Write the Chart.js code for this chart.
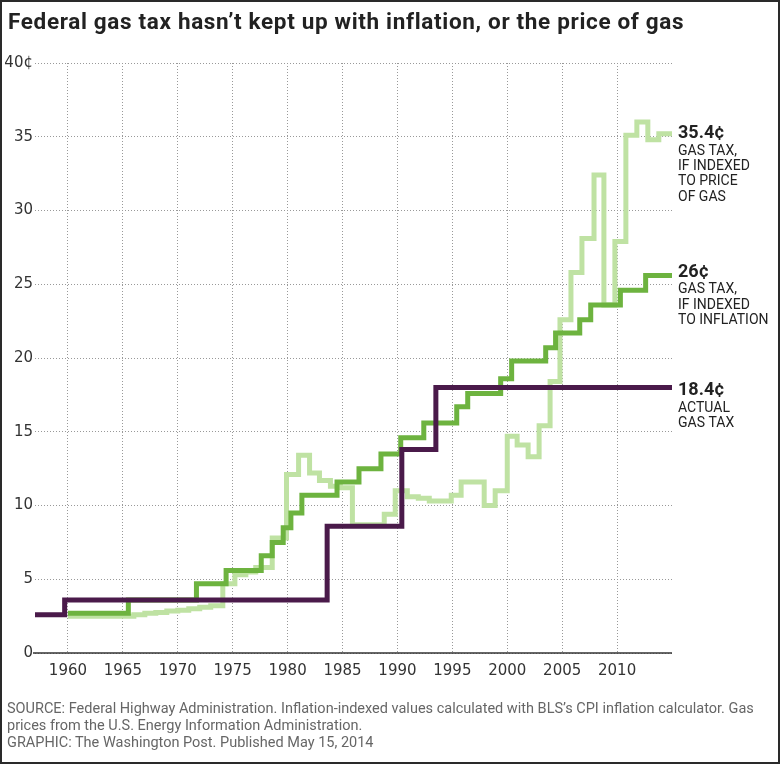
<!DOCTYPE html>
<html><head><meta charset="utf-8">
<script src="https://cdn.jsdelivr.net/npm/chart.js@4.4.1/dist/chart.umd.min.js"></script>
<style>
html,body{margin:0;padding:0;background:#fff;}
#wrap{position:relative;width:780px;height:764px;overflow:hidden;background:#fff;}
#c{position:absolute;left:0;top:0;}
#frame{position:absolute;left:0;top:0;width:780px;height:764px;box-sizing:border-box;border:2px solid #2a2a2a;pointer-events:none;}
#title{position:absolute;left:8px;top:8px;font-family:Roboto,sans-serif;font-weight:700;font-size:22.5px;line-height:26px;color:#222;white-space:nowrap;}
#foot{position:absolute;left:7px;top:701px;font-family:Roboto,sans-serif;font-size:14.5px;line-height:16.8px;color:#666;white-space:nowrap;}
</style></head>
<body>
<div id="wrap">
<canvas id="c" width="780" height="764"></canvas>
<div id="title">Federal gas tax hasn’t kept up with inflation, or the price of gas</div>
<div id="foot">SOURCE: Federal Highway Administration. Inflation-indexed values calculated with BLS’s CPI inflation calculator. Gas<br>prices from the U.S. Energy Information Administration.<br>GRAPHIC: The Washington Post. Published May 15, 2014</div>
<div id="frame"></div>
</div>
<script>
// ---- data ----
const xTicks = [1960, 1965, 1970, 1975, 1980, 1985, 1990, 1995, 2000, 2005, 2010];
const yTicks = [0, 5, 10, 15, 20, 25, 30, 35, 40];

// actual federal gas tax (cents), step starts
const actualYears = [1957, 1959.7, 1983.6, 1990.4, 1993.5, 2015];
const actualTax   = [2.6, 3.6, 8.6, 13.8, 18.0, 18.0];

// gas tax if indexed to inflation
const inflationYears = [1960, 1965.5, 1971.7, 1974.4, 1977.6, 1978.6, 1979.6, 1980.3, 1981.3, 1984.5, 1986.5, 1988.5, 1990.3, 1992.4, 1995.4, 1996.4, 1999.4, 2000.4, 2003.5, 2004.4, 2006.6, 2007.6, 2010.3, 2012.6, 2015];
const inflationTax   = [2.7, 3.6, 4.7, 5.6, 6.6, 7.5, 8.5, 9.5, 10.7, 11.6, 12.5, 13.5, 14.6, 15.6, 16.7, 17.6, 18.6, 19.8, 20.7, 21.7, 22.6, 23.6, 24.6, 25.6, 25.6];

// gas tax if indexed to price of gas
const gasPriceYears = [1960, 1966, 1967, 1968, 1969, 1970, 1971, 1972, 1973, 1974.1, 1975.2, 1976.2, 1977.1, 1978.6, 1979.9, 1981.0, 1982.0, 1982.9, 1983.9, 1984.8, 1985.9, 1988.8, 1989.8, 1990.9, 1991.9, 1992.9, 1994.9, 1995.8, 1997.9, 1998.9, 2000.0, 2000.9, 2001.9, 2002.9, 2003.9, 2004.8, 2005.8, 2006.8, 2007.9, 2008.8, 2009.8, 2010.8, 2011.8, 2012.8, 2013.8, 2015];
const gasPriceTax   = [2.5, 2.6, 2.7, 2.75, 2.85, 2.9, 3.0, 3.1, 3.2, 4.7, 5.3, 5.5, 5.8, 7.8, 12.1, 13.4, 12.2, 11.7, 11.3, 11.2, 8.7, 9.4, 11.0, 10.6, 10.5, 10.3, 10.7, 11.6, 10.0, 11.0, 14.7, 14.1, 13.3, 15.4, 18.4, 22.6, 25.8, 28.1, 32.4, 23.6, 27.9, 35.1, 36.0, 34.8, 35.2, 35.2];

// end labels
const actualLabel    = ['18.4¢', 'ACTUAL', 'GAS TAX'];
const inflationLabel = ['26¢', 'GAS TAX,', 'IF INDEXED', 'TO INFLATION'];
const gasPriceLabel  = ['35.4¢', 'GAS TAX,', 'IF INDEXED', 'TO PRICE', 'OF GAS'];

// ---- title fit to reference width ----
(function () {
  const t = document.getElementById('title');
  const w = t.getBoundingClientRect().width;
  const target = 676;
  const n = t.textContent.length;
  t.style.letterSpacing = ((target - w) / n).toFixed(3) + 'px';
})();

// ---- build ----
const pts = (xs, ys) => xs.map((x, i) => ({x: x, y: ys[i]}));
const lineStyle = {pointRadius: 0, borderWidth: 5, stepped: true, fill: false, tension: 0,
  borderJoinStyle: 'miter', borderCapStyle: 'butt'};

const endLabelStyle = [
  {ds: 2, lines: gasPriceLabel, nudge: 0},
  {ds: 1, lines: inflationLabel, nudge: -3},
  {ds: 0, lines: actualLabel, nudge: 3}
];

const endLabelPlugin = {
  id: 'endLabels',
  afterDraw(chart) {
    const ctx = chart.ctx, y = chart.scales.y, area = chart.chartArea;
    ctx.save();
    const y0 = y.getPixelForValue(0);
    ctx.strokeStyle = '#333'; ctx.lineWidth = 1.5;
    ctx.beginPath(); ctx.moveTo(area.left - 2, y0); ctx.lineTo(area.right, y0); ctx.stroke();
    const x0 = area.right + 6;
    ctx.fillStyle = '#222'; ctx.textAlign = 'left'; ctx.textBaseline = 'middle';
    endLabelStyle.forEach(lb => {
      const d = chart.data.datasets[lb.ds].data;
      const cy = y.getPixelForValue(d[d.length - 1].y) + lb.nudge;
      lb.lines.forEach((t, i) => {
        if (i === 0) { ctx.font = 'bold 18px Roboto'; ctx.fillText(t, x0, cy); }
        else { ctx.font = '14px Roboto'; ctx.fillText(t, x0, cy + 17.5 + (i - 1) * 15.3); }
      });
    });
    ctx.restore();
  }
};

const tickFont = {family: 'DejaVu Sans', size: 15};

new Chart(document.getElementById('c'), {
  type: 'line',
  data: {
    datasets: [
      Object.assign({label: 'Actual gas tax', data: pts(actualYears, actualTax), borderColor: '#4a1a4a', order: 1}, lineStyle),
      Object.assign({label: 'Indexed to inflation', data: pts(inflationYears, inflationTax), borderColor: '#6db33f', order: 2}, lineStyle),
      Object.assign({label: 'Indexed to price of gas', data: pts(gasPriceYears, gasPriceTax), borderColor: '#bfe2a3', order: 3}, lineStyle)
    ]
  },
  options: {
    responsive: false, animation: false, events: [],
    layout: {padding: {top: 63, right: 108, bottom: 81, left: 0}},
    plugins: {legend: {display: false}, tooltip: {enabled: false}, title: {display: false}},
    scales: {
      x: {
        type: 'linear', min: 1957, max: 2015,
        afterBuildTicks: s => { s.ticks = xTicks.map(v => ({value: v})); },
        afterFit: s => { s.height = 30; },
        ticks: {font: tickFont, color: '#333', padding: 9, maxRotation: 0, autoSkip: false, callback: v => String(v)},
        grid: {color: '#999', lineWidth: 1, drawTicks: false, borderDash: [1, 2]},
        border: {display: false, dash: [1, 2]}
      },
      y: {
        min: 0, max: 40,
        afterBuildTicks: s => { s.ticks = yTicks.map(v => ({value: v})); },
        afterFit: s => { s.width = 35; },
        ticks: {font: tickFont, color: '#333', padding: 2, callback: v => v === 40 ? '40¢' : String(v)},
        grid: {color: '#999', lineWidth: 1, drawTicks: false, borderDash: [1, 2]},
        border: {display: false, dash: [1, 2]}
      }
    }
  },
  plugins: [endLabelPlugin]
});
</script>
</body></html>
